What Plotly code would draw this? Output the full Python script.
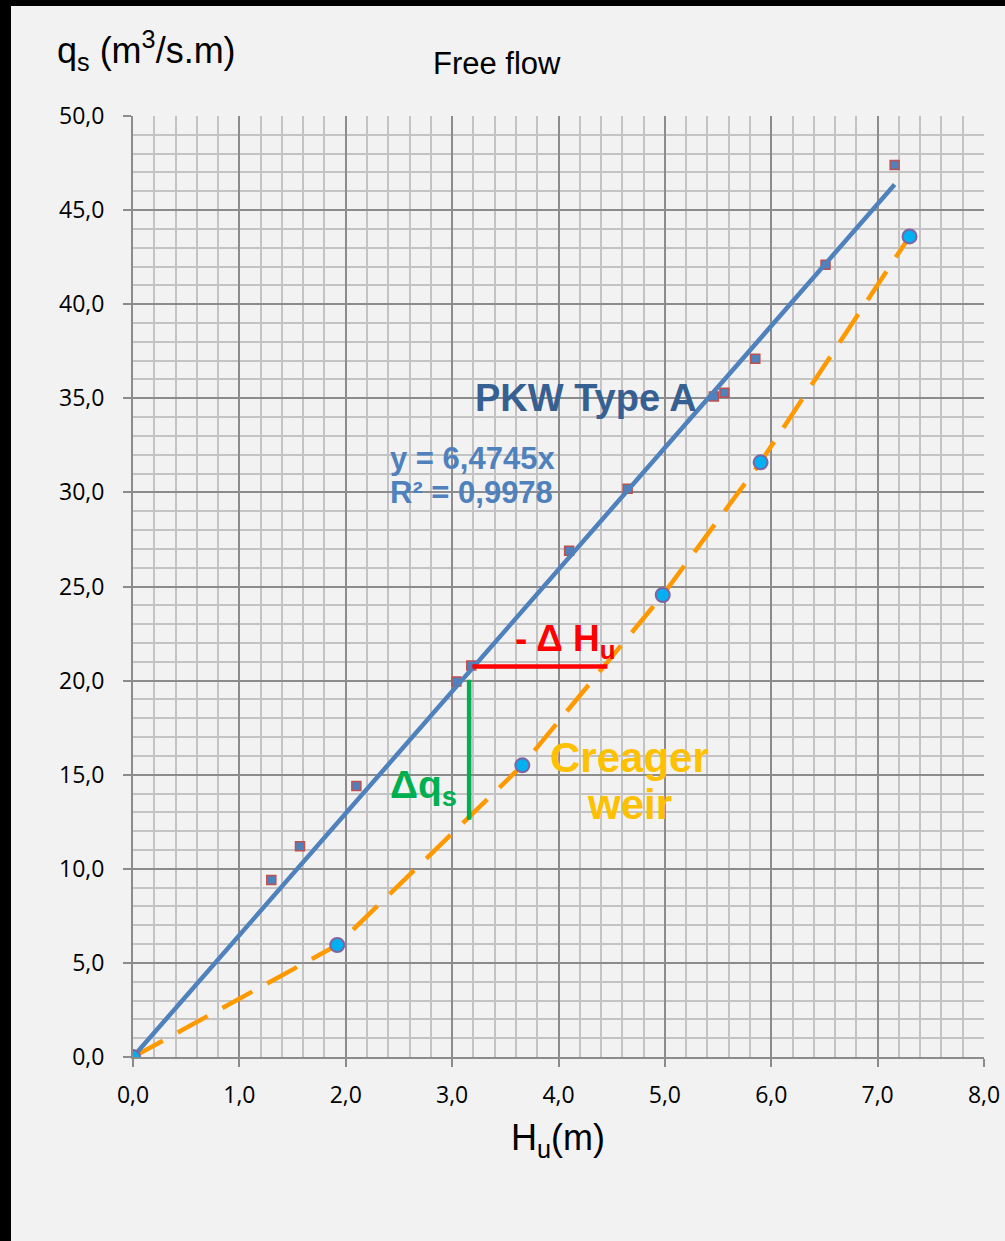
import plotly.graph_objects as go

# ---- data ----
pkw_x = [0.0, 1.30, 1.57, 2.10, 3.04, 3.18, 4.10, 4.65, 5.46, 5.56, 5.85, 6.51, 7.16]
pkw_y = [0.0, 9.4, 11.2, 14.4, 19.95, 20.8, 26.9, 30.2, 35.1, 35.3, 37.1, 42.1, 47.4]

creager_x = [0.0, 1.92, 3.66, 4.98, 5.90, 7.30]
creager_y = [0.0, 5.95, 15.5, 24.55, 31.6, 43.6]

trend_slope = 6.4745
trend_x = [0.0, 7.16]
trend_y = [trend_slope * v for v in trend_x]

delta_h_x = [3.19, 4.46]
delta_h_y = [20.75, 20.75]
delta_q_x = [3.16, 3.16]
delta_q_y = [20.05, 12.6]

x_ticks = [0, 1, 2, 3, 4, 5, 6, 7, 8]
y_ticks = [0, 5, 10, 15, 20, 25, 30, 35, 40, 45, 50]

# ---- layout geometry (pixels) ----
W, H = 1005, 1241
L, R, T, B = 133, 21, 116, 184
PW, PH = W - L - R, H - T - B


def px(xp):
    return (xp - L) / PW


def py(yp):
    return (H - B - yp) / PH


fig = go.Figure()

fig.add_trace(go.Scatter(
    x=creager_x, y=creager_y, mode="lines",
    line=dict(color="#FF9900", width=4.5, dash="34px,17px"),
    showlegend=False, hoverinfo="skip"))

fig.add_trace(go.Scatter(
    x=pkw_x, y=pkw_y, mode="markers",
    marker=dict(symbol="square", size=9, color="#4F81BD",
                line=dict(color="#C0504D", width=1.5)),
    showlegend=False))

fig.add_trace(go.Scatter(
    x=trend_x, y=trend_y, mode="lines",
    line=dict(color="#4F81BD", width=4.5),
    showlegend=False, hoverinfo="skip"))

fig.add_trace(go.Scatter(
    x=creager_x, y=creager_y, mode="markers",
    marker=dict(symbol="circle", size=14, color="#00B0F0",
                line=dict(color="#8064A2", width=2)),
    showlegend=False))

fig.add_trace(go.Scatter(
    x=delta_h_x, y=delta_h_y, mode="lines",
    line=dict(color="#FF0000", width=4.5),
    showlegend=False, hoverinfo="skip"))

fig.add_trace(go.Scatter(
    x=delta_q_x, y=delta_q_y, mode="lines",
    line=dict(color="#00B050", width=4.5),
    showlegend=False, hoverinfo="skip"))

axis_common = dict(
    showgrid=True, gridcolor="#8C8C8C", gridwidth=1.5,
    zeroline=False, showline=True, linecolor="#8C8C8C", linewidth=2,
    ticks="outside", ticklen=8, tickwidth=1.5, tickcolor="#8C8C8C",
    tickfont=dict(family="Open Sans", size=23, color="#000000"),
    tickformat=".1f", fixedrange=True, ticklabeloverflow="allow",
    automargin=False,
)

fig.update_xaxes(range=[0, 8], tickvals=x_ticks,
                 minor=dict(dtick=0.2, showgrid=True, gridcolor="#C3C3C3", gridwidth=1.5),
                 ticklabelstandoff=8, **axis_common)
fig.update_yaxes(range=[0, 50], tickvals=y_ticks,
                 minor=dict(dtick=1, showgrid=True, gridcolor="#C3C3C3", gridwidth=1.5),
                 ticklabelstandoff=14, **axis_common)

arial = "Liberation Sans, Arial, sans-serif"
annotations = [
    dict(text="q<sub>s</sub> (m<sup>3</sup>/s.m)", xref="paper", yref="paper",
         x=px(55), y=py(50), xanchor="left", yanchor="middle",
         font=dict(family=arial, size=36, color="#000")),
    dict(text="Free flow", xref="paper", yref="paper",
         x=px(497), y=py(64), xanchor="center", yanchor="middle",
         font=dict(family=arial, size=31, color="#000")),
    dict(text="H<sub>u</sub>(m)", xref="paper", yref="paper",
         x=px(558), y=py(1140), xanchor="center", yanchor="middle",
         font=dict(family=arial, size=36, color="#000")),
    dict(text="<b>PKW Type A</b>", x=4.26, y=35.0, xanchor="center", yanchor="middle",
         font=dict(family=arial, size=38, color="#376092")),
    dict(text="<b>y = 6,4745x</b>", x=2.40, y=31.8, xanchor="left", yanchor="middle",
         font=dict(family=arial, size=31, color="#4F81BD")),
    dict(text="<b>R² = 0,9978</b>", x=2.40, y=30.0, xanchor="left", yanchor="middle",
         font=dict(family=arial, size=31, color="#4F81BD")),
    dict(text="<b>- Δ H<sub>u</sub></b>", x=3.57, y=22.1, xanchor="left", yanchor="middle",
         font=dict(family=arial, size=37, color="#FF0000")),
    dict(text="<b>Δq<sub>s</sub></b>", x=2.40, y=14.3, xanchor="left", yanchor="middle",
         font=dict(family=arial, size=39, color="#00B050")),
    dict(text="<b>Creager</b>", x=4.67, y=15.9, xanchor="center", yanchor="middle",
         font=dict(family=arial, size=42, color="#FFC000")),
    dict(text="<b>weir</b>", x=4.67, y=13.4, xanchor="center", yanchor="middle",
         font=dict(family=arial, size=42, color="#FFC000")),
]
for a in annotations:
    a.setdefault("xref", "x")
    a.setdefault("yref", "y")
    a["showarrow"] = False
    fig.add_annotation(**a)

# black frame bands at top and left edges of the picture
fig.add_shape(type="rect", xref="paper", yref="paper",
              x0=px(0), x1=px(11), y0=py(H), y1=py(0),
              fillcolor="#000000", line=dict(width=0), layer="below")
fig.add_shape(type="rect", xref="paper", yref="paper",
              x0=px(0), x1=px(W), y0=py(6), y1=py(0),
              fillcolor="#000000", line=dict(width=0), layer="below")

fig.update_layout(
    width=W, height=H, autosize=False,
    margin=dict(l=L, r=R, t=T, b=B, autoexpand=False),
    paper_bgcolor="#F2F2F2", plot_bgcolor="#F2F2F2",
    separators=", ",
    showlegend=False,
)

fig.write_html("out.html", config={"responsive": False})
